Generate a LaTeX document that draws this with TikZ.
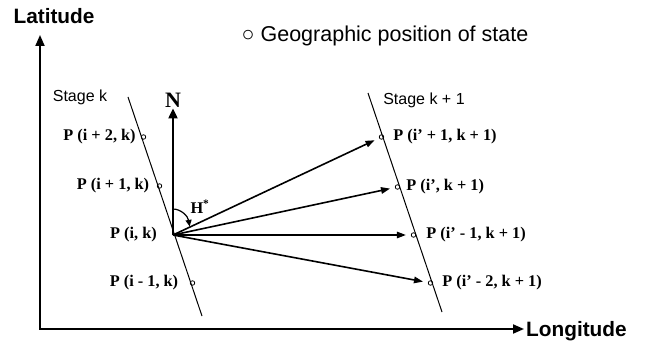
\documentclass[tikz,border=0pt]{standalone}
\usepackage{fontspec}
\setmainfont{Liberation Sans}
\newfontfamily\timesfont{Liberation Serif}
\usetikzlibrary{arrows.meta, positioning}

\begin{document}
\begin{tikzpicture}[x=1pt, y=-1pt,
    axis/.style={line width=2pt, {Triangle[length=11pt,width=9pt]}-{Triangle[length=11pt,width=9pt]}},
    vec/.style={line width=1.6pt, -{Triangle[length=9pt,width=6.5pt]}, shorten >=5pt},
    stage/.style={line width=1pt},
    state/.style={circle, draw, line width=0.8pt, inner sep=0pt, minimum size=4.5pt},
    plabel/.style={font=\timesfont\bfseries\fontsize{16.3}{19}\selectfont, inner sep=1pt},
    slabel/.style={font=\fontsize{16}{19}\selectfont, inner sep=0pt},
    big/.style={font=\fontsize{21.5}{24}\selectfont, inner sep=0pt},
    axlabel/.style={font=\bfseries\fontsize{20.8}{24}\selectfont, inner sep=0pt},
]
    \useasboundingbox (0,0) rectangle (649,345);

    % axes
    \coordinate (origin) at (40,329);
    \coordinate (lat) at (40,35);
    \coordinate (lon) at (524,329);
    \draw[axis] (lat) -- (origin) -- (lon);
    \node[axlabel] (latlbl) at (54,16) {Latitude};
    \node[axlabel, anchor=west] (lonlbl) at (526,331) {Longitude};
    \node[big] (legend) at (385,36) {○ Geographic position of state};

    % stage lines
    \coordinate (ktop) at (128,97);
    \coordinate (kbot) at (202,316);
    \coordinate (ntop) at (368,93);
    \coordinate (nbot) at (442,312);
    \draw[stage] (ktop) -- (kbot);
    \draw[stage] (ntop) -- (nbot);
    \node[slabel] (stagek) at (80,97) {Stage k};
    \node[slabel] (stagen) at (424,100) {Stage k + 1};

    % states of stage k
    \coordinate (pik) at (173,235);
    \node[state] (pk2) at (143.5,137) {};
    \node[state] (pk1) at (159.5,186) {};
    \node[state] (pkm) at (192.5,283) {};
    \node[plabel, left=4pt of pk2] {P (i + 2, k)};
    \node[plabel, left=6.5pt of pk1] {P (i + 1, k)};
    \node[plabel, left=15pt of pik] {P (i, k)};
    \node[plabel, left=10.5pt of pkm] {P (i - 1, k)};

    % states of stage k + 1
    \node[state] (q1) at (381.5,137) {};
    \node[state] (q0) at (397.5,187) {};
    \node[state] (qm1) at (413.5,235) {};
    \node[state] (qm2) at (430.5,283) {};
    \node[plabel, right=8pt of q1] {P (i’ + 1, k + 1)};
    \node[plabel, right=5pt of q0] {P (i’, k + 1)};
    \node[plabel, right=9pt of qm1] {P (i’ - 1, k + 1)};
    \node[plabel, right=8pt of qm2] {P (i’ - 2, k + 1)};

    % north and heading
    \node[font=\timesfont\bfseries\fontsize{22}{24}\selectfont, inner sep=1pt] (north) at (173,100) {N};
    \draw[line width=2pt, -{Triangle[length=10pt,width=9pt]}] (pik) -- (north);
    \draw[line width=1.2pt, -{Triangle[length=6.5pt,width=6pt]}] ([yshift=26pt]pik) arc[start angle=-90, end angle=-12, x radius=17, y radius=22];
    \node[plabel] (hstar) at (200,207) {H\textsuperscript{*}};

    % transitions
    \draw[vec] (pik) -- (q1);
    \draw[vec] (pik) -- (q0);
    \draw[vec] (pik) -- (qm1);
    \draw[vec] (pik) -- (qm2);
\end{tikzpicture}
\end{document}
